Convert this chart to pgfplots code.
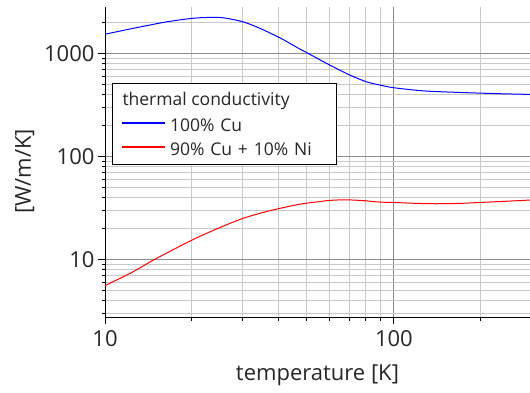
\documentclass[border=0pt]{standalone}
\usepackage{pgfplots}
\pgfplotsset{compat=1.18}
\usepackage{fontspec}
\setmainfont{Open Sans}
\usetikzlibrary{calc}
\definecolor{txt}{HTML}{262626}
\definecolor{majgrid}{HTML}{8C8C8C}
\definecolor{mingrid}{HTML}{C8C8C8}
\pgfplotstableread{
T k
10 1535
12.5 1750
14.3 1884
16.4 2027
20 2188
23.1 2236
25.6 2218
30 2027
34.4 1750
40.3 1417
43.7 1250
47.3 1101
49.9 1018
60 770
70.5 615
80.4 530
89.7 492
100 464
126 433
160 420
201 411
250 404
296 400
}\cu
\pgfplotstableread{
T k
10 5.56
12.5 7.58
14.7 9.84
20 15.4
25 20.4
30 25
35 28.4
40.3 31.3
47.3 34.4
54 36.1
60 37.4
67.6 37.9
75 37.5
80.4 37
89.7 36
100 35.7
120 35.0
140 34.7
170 35.0
198 35.7
250 36.8
296 37.7
}\cuni
\begin{document}
\begin{tikzpicture}
\begin{loglogaxis}[
  scale only axis,
  width=425pt, height=310pt,
  xmin=10, xmax=296, ymin=2.73, ymax=2790,
  axis x line*=bottom, axis y line*=left,
  axis line style={black, line width=1pt, -},
  xtick={10,100}, xticklabels={10,100},
  ytick={10,100,1000}, yticklabels={10,100,1000},
  minor xtick={20,30,40,50,60,70,80,90,200,300},
  minor ytick={3,4,5,6,7,8,9,20,30,40,50,60,70,80,90,200,300,400,500,600,700,800,900,2000},
  tick align=outside,
  major tick length=7pt, minor tick length=3.5pt,
  every tick/.style={black, line width=1pt},
  grid=both,
  major grid style={majgrid, line width=1pt},
  minor grid style={mingrid, line width=1pt},
  /pgf/number format/assume math mode=true,
  ticklabel style={font=\fontsize{22}{26}\selectfont, text=txt},
  xticklabel style={yshift=-3pt},
  label style={font=\fontsize{22}{26}\selectfont, text=txt},
  xlabel={temperature [K]},
  ylabel={[W/m/K]},
  xlabel style={yshift=-11pt},
  ylabel style={yshift=3pt, xshift=-9pt},
  legend style={at={(rel axis cs:0.016,0.758)}, anchor=north west,
    draw=black, fill=white,
    font=\fontsize{17.5}{21}\selectfont,
    inner xsep=9.5pt, inner ysep=4.5pt, row sep=0pt,
    /tikz/column 2/.style={nodes={text=txt, inner sep=2pt, inner xsep=4pt, text height=18pt, text depth=2pt, text width=153pt}}},
  legend cell align=left,
  legend image code/.code={\draw[#1, line width=1.6pt] (0pt,0pt) -- (43pt,0pt);},
]
\addlegendimage{legend image code/.code={\node[overlay, anchor=west, inner sep=0pt, text=txt, font=\fontsize{17.5}{21}\selectfont] at (0pt,0pt) {thermal conductivity};}}
\addlegendentry{\vphantom{Cu}}
\addplot[blue, line width=1pt, smooth] table[x=T, y=k] {\cu};
\addlegendentry{100\% Cu}
\addplot[red, line width=1pt, smooth] table[x=T, y=k] {\cuni};
\addlegendentry{90\% Cu + 10\% Ni}
\end{loglogaxis}
\pgfresetboundingbox
\path ($(current axis.south west)+(-105pt,-74.7pt)$) rectangle ($(current axis.north east)+(0pt,7.5pt)$);
\end{tikzpicture}
\end{document}
